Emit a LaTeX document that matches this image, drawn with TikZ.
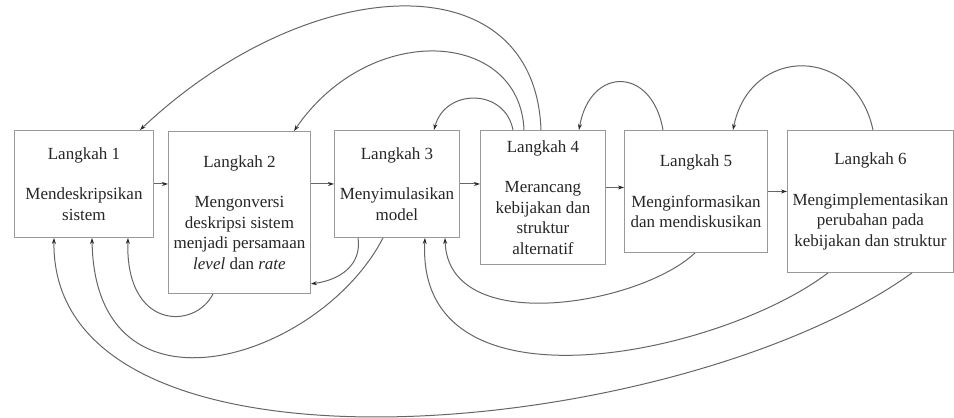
\documentclass[tikz,border=0pt]{standalone}
\usepackage{fontspec}
\setmainfont{Liberation Serif}
\usetikzlibrary{arrows.meta}
\begin{document}
\begin{tikzpicture}[x=1pt,y=-1pt,
  stepbox/.style={draw=black!40, line width=0.9pt, fill=white, rectangle, anchor=north west,
    inner sep=0pt, align=center, text=black!85, font=\fontsize{17}{20.5}\selectfont},
  conn/.style={draw=black!60, line width=1pt,
    -{Stealth[length=6pt,width=4pt,color=black!85]}}]
\useasboundingbox (0,0) rectangle (954,418);
\fill[white] (0,0) rectangle (954,418);

\node[stepbox, minimum width=139pt, minimum height=107pt] (b1) at (14,130)
  {Langkah 1\\[20pt]Mendeskripsikan\\sistem};
\node[stepbox, minimum width=142pt, minimum height=162pt] (b2) at (168,131)
  {Langkah 2\\[20pt]Mengonversi\\deskripsi sistem\\menjadi persamaan\\\textit{level} dan \textit{rate}};
\node[stepbox, minimum width=125pt, minimum height=107pt] (b3) at (334,130)
  {Langkah 3\\[20pt]Menyimulasikan\\model};
\node[stepbox, minimum width=125pt, minimum height=134pt] (b4) at (480,130)
  {Langkah 4\\[20pt]Merancang\\kebijakan dan\\struktur\\alternatif};
\node[stepbox, minimum width=143pt, minimum height=122pt] (b5) at (624,130)
  {Langkah 5\\[20pt]Menginformasikan\\dan mendiskusikan};
\node[stepbox, minimum width=166pt, minimum height=142pt] (b6) at (787,130)
  {Langkah 6\\[20pt]Mengimplementasikan\\perubahan pada\\kebijakan dan struktur};

% forward arrows
\draw[conn] (b1.east) -- (b1.east -| b2.west);
\draw[conn] (b3.west -| b2.east) -- (b3.west);
\draw[conn] (b3.east) -- (b3.east -| b4.west);
\coordinate (a45) at ([yshift=4pt]b5.west);
\draw[conn] (a45 -| b4.east) -- (a45);
\draw[conn] (b5.east) -- (b5.east -| b6.west);

% top arcs
\draw[conn] ([xshift=61pt]b4.north west) .. controls (535,-40) and (310,-30) .. ([xshift=126pt]b1.north west);
\draw[conn] ([xshift=44pt]b4.north west) .. controls (520,30) and (370,20) .. ([xshift=126pt]b2.north west);
\draw[conn] ([xshift=33pt]b4.north west) .. controls (505,88) and (445,88) .. ([xshift=100pt]b3.north west);
\draw[conn] ([xshift=39pt]b5.north west) .. controls (652,66) and (590,66) .. ([xshift=99pt]b4.north west);
\draw[conn] ([xshift=86pt]b6.north west) .. controls (855,45) and (750,45) .. ([xshift=109pt]b5.north west);

% bottom arcs
\draw[conn] ([xshift=45pt]b2.south west) .. controls (195,330) and (125,330) .. ([xshift=114pt]b1.south west);
\draw[conn] ([xshift=49pt]b3.south west) .. controls (320,360) and (95,430) .. ([xshift=78pt]b1.south west);
\draw[conn] ([xshift=24pt]b3.south west) .. controls (362,265) and (340,280) .. ([yshift=10pt]b2.south east);
\draw[conn] ([xshift=71pt]b5.south west) .. controls (640,305) and (448,338) .. ([xshift=111pt]b3.south west);
\draw[conn] ([xshift=41pt]b6.south west) .. controls (720,355) and (415,420) .. ([xshift=91pt]b3.south west);
\draw[conn] ([xshift=125pt]b6.south west) .. controls (680,440) and (50,500) .. ([xshift=40pt]b1.south west);
\end{tikzpicture}
\end{document}
